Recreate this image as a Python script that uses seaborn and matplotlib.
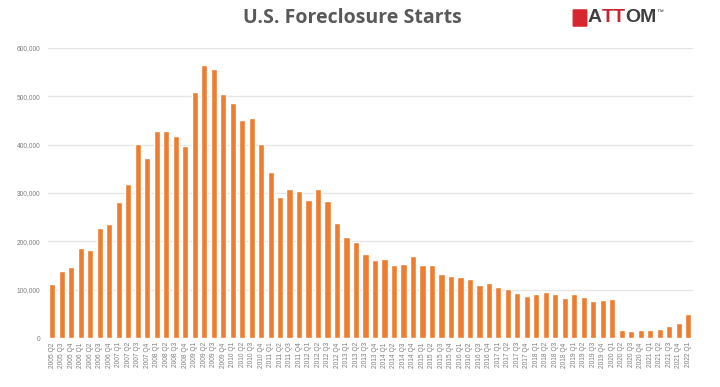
import matplotlib
matplotlib.use("Agg")
import matplotlib.pyplot as plt
import matplotlib.patches as patches
from matplotlib.ticker import FuncFormatter
import seaborn as sns

# Quarterly foreclosure starts, 2005 Q2 to 2022 Q1
years = [2005] * 3 + [y for y in range(2006, 2022) for _ in range(4)] + [2022]
quarters = ["Q2", "Q3", "Q4"] + ["Q1", "Q2", "Q3", "Q4"] * 16 + ["Q1"]
labels = [f"{y} {q}" for y, q in zip(years, quarters)]

starts = [
    111500, 139000, 146000,
    186000, 182000, 227000, 235000,
    281000, 319000, 402000, 372000,
    428000, 427000, 418000, 397000,
    508000, 564000, 557000, 504000,
    485000, 451000, 455000, 402000,
    344000, 292000, 308000, 303000,
    286000, 309000, 284000, 238000,
    208000, 198000, 173000, 162000,
    163000, 150000, 154000, 170000,
    151000, 151000, 132000, 129000,
    127000, 123000, 109000, 113000,
    105000, 101000, 94000, 86000,
    92000, 96000, 90000, 83000,
    91000, 85000, 76000, 79000,
    80000, 16000, 14000, 16000,
    16000, 19000, 24000, 30000,
    50000,
]

bar_color = "#ED7D31"
text_gray = "#595959"
tick_gray = "#7F7F7F"

sns.set_theme(style="white")
plt.rcParams["font.family"] = ["Liberation Sans", "DejaVu Sans"]

fig = plt.figure(figsize=(7.2, 3.87), dpi=100)
ax = fig.add_axes([0.066, 0.1266, 0.8965, 0.75])

sns.barplot(x=labels, y=starts, color=bar_color, saturation=1, width=0.65, ax=ax)

ax.set_xlim(-0.5, len(labels) - 0.5)
ax.set_ylim(0, 600000)
ax.set_yticks(range(0, 600001, 100000))
ax.yaxis.set_major_formatter(FuncFormatter(lambda v, _: f"{int(v):,}"))
ax.grid(axis="y", color="#E6E6E6", linewidth=1)
ax.set_axisbelow(True)
sns.despine(ax=ax, left=True, bottom=True)
ax.tick_params(axis="y", labelsize=4.8, colors=tick_gray, length=0, pad=5)
ax.tick_params(axis="x", labelsize=4.8, colors=tick_gray, length=0, pad=3,
               labelrotation=90)
ax.set_xlabel("")
ax.set_ylabel("")

# title
fig.text(0.489, 0.953, "U.S. Foreclosure Starts", ha="center", va="center",
         fontsize=14, fontweight="bold", color=text_gray,
         family=["Open Sans", "DejaVu Sans"])

# ATTOM logo: a small red mark plus chained text pieces so the TT can be red
fig.patches.append(patches.FancyBboxPatch(
    (574 / 720, 1 - 26 / 387), 12 / 720, 16 / 387,
    boxstyle="round,pad=0.002", transform=fig.transFigure,
    facecolor="#D7262E", edgecolor="none"))
logo_kw = dict(ha="left", va="bottom", fontsize=14, fontweight="bold",
               annotation_clip=False, textcoords="offset points")
t1 = fig.text(588 / 720, 1 - 18 / 387, "A", ha="left", va="center",
              fontsize=14, fontweight="bold", color="#404040")
t2 = ax.annotate("TT", xy=(1, 0), xycoords=t1, xytext=(-0.4, 0),
                 color="#C8262E", **logo_kw)
t3 = ax.annotate("OM", xy=(1, 0), xycoords=t2, xytext=(-0.4, 0),
                 color="#404040", **logo_kw)
ax.annotate("\u2122", xy=(1, 1), xycoords=t3, ha="left", va="top",
            fontsize=5, color="#404040", annotation_clip=False)

fig.savefig("out.png", dpi=100)
